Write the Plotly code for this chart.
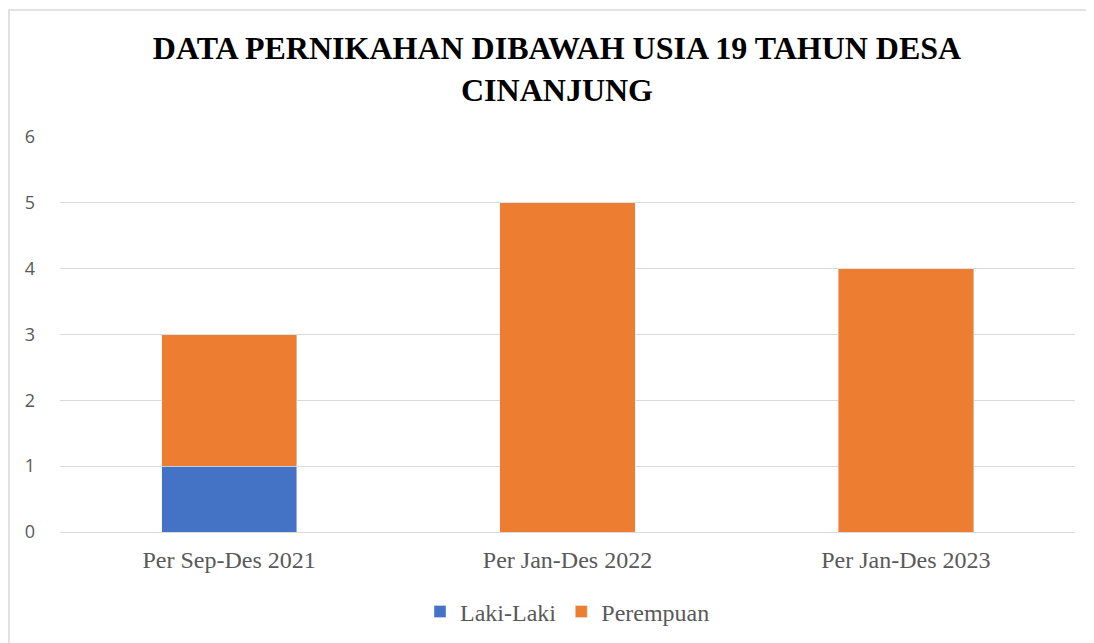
import plotly.graph_objects as go

categories = ["Per Sep-Des 2021", "Per Jan-Des 2022", "Per Jan-Des 2023"]
laki_laki = [1, 0, 0]
perempuan = [2, 5, 4]
y_ticks = [0, 1, 2, 3, 4, 5, 6]

OFF = 8  # page offset
W, H = 1094, 643
L, R, T, B = 60 - OFF, 19 + OFF, 137 - OFF, 111 + OFF
pw, ph = W - L - R, H - T - B

def px_x(x):
    return (x - OFF - L) / pw

def px_y(y):
    return (H - B - (y - OFF)) / ph

SERIF = "Liberation Serif, Times New Roman, serif"

fig = go.Figure()
fig.add_trace(go.Bar(name="Laki-Laki", x=categories, y=laki_laki, marker_color="#4472C4"))
fig.add_trace(go.Bar(name="Perempuan", x=categories, y=perempuan, marker_color="#ED7D31"))

fig.update_layout(
    width=W, height=H,
    barmode="stack", bargap=0.6,
    plot_bgcolor="white", paper_bgcolor="white",
    margin=dict(l=L, r=R, t=T, b=B, autoexpand=False),
    title=dict(
        text="DATA PERNIKAHAN DIBAWAH USIA 19 TAHUN DESA<br>CINANJUNG",
        x=(557 - OFF) / W, xanchor="center", y=1 - (59 - OFF) / H, yanchor="middle",
        font=dict(family=SERIF, size=32, color="black", weight="bold"),
    ),
    xaxis=dict(
        showline=False, ticks="", showgrid=False, ticklabelstandoff=11,
        tickfont=dict(family=SERIF, size=24, color="#595959"),
    ),
    yaxis=dict(
        range=[0, 6], tickvals=y_ticks, showgrid=True, gridcolor="#D9D9D9", gridwidth=1.3,
        zeroline=True, zerolinecolor="#D9D9D9", zerolinewidth=1.3,
        ticks="", ticklabelstandoff=24,
        tickfont=dict(family="Open Sans", size=18, color="#595959"),
    ),
    legend=dict(
        orientation="h", x=0.5, xanchor="center", y=px_y(612), yanchor="middle",
        font=dict(family=SERIF, size=24, color="#595959"),
        traceorder="normal", itemwidth=30,
    ),
    shapes=[dict(
        type="rect", xref="paper", yref="paper",
        x0=px_x(9), x1=px_x(1093), y0=px_y(650), y1=px_y(10),
        line=dict(color="#D9D9D9", width=1.5), fillcolor="rgba(0,0,0,0)", layer="below",
    )],
)

fig.write_html("out.html")
